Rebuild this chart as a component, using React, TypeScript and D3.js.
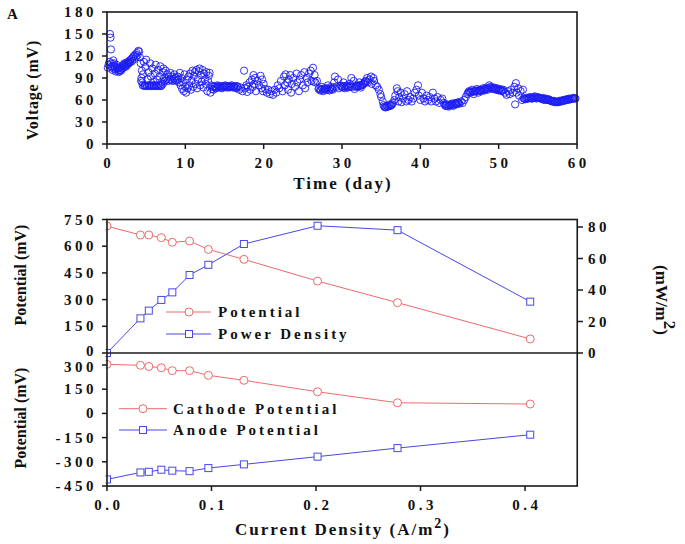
import React from "react";
import * as d3 from "d3";

// ---------- Panel A data: [day, voltage mV] ----------
const voltageData: [number, number][] = [
  [0.1,104],[0.2,108],[0.3,112],[0.38,150],[0.45,145],[0.5,129],[0.55,110],[0.6,106],[0.7,101],[0.8,114],[0.9,110],[1.0,104],[1.1,99],[1.2,108],[1.3,103],[1.4,100],[1.5,98],[1.6,104],[1.7,101],[1.8,100],[1.9,106],[2.0,103],[2.1,108],[2.2,110],[2.3,105],[2.4,109],[2.5,111],[2.6,108],[2.7,112],[2.8,110],[2.9,114],[3.0,112],[3.1,116],[3.2,113],[3.3,118],[3.4,120],[3.5,116],[3.6,122],[3.7,119],[3.8,124],[3.9,121],[4.0,127],[4.1,126],[4.2,118],[4.3,110],[4.35,86],[4.4,90],[4.45,100],[4.5,84],[4.6,95],[4.7,112],[4.8,80],[4.9,105],[5.0,115],[5.1,79],[5.2,88],[5.3,98],[5.4,80],[5.5,110],[5.6,92],[5.7,79],[5.8,103],[5.9,85],[6.0,80],[6.1,96],[6.2,108],[6.3,79],[6.4,88],[6.5,101],[6.6,80],[6.7,92],[6.8,106],[6.9,79],[7.0,85],[7.1,98],[7.2,103],[7.3,90],[7.4,86],[7.5,100],[7.6,88],[7.7,95],[7.8,86],[7.9,92],[8.0,88],[8.1,97],[8.2,87],[8.3,92],[8.4,86],[8.5,89],[8.6,95],[8.7,87],[8.8,90],[8.9,86],[9.0,92],[9.1,88],[9.2,84],[9.3,97],[9.4,80],[9.5,90],[9.6,75],[9.7,84],[9.8,72],[9.9,95],[10.0,78],[10.1,70],[10.2,88],[10.3,76],[10.4,92],[10.5,80],[10.6,96],[10.7,74],[10.8,86],[10.9,100],[11.0,78],[11.1,93],[11.2,98],[11.3,82],[11.4,101],[11.5,76],[11.6,88],[11.7,99],[11.8,103],[11.9,80],[12.0,94],[12.1,85],[12.2,101],[12.3,77],[12.4,96],[12.5,88],[12.6,82],[12.7,98],[12.8,72],[12.9,86],[13.0,93],[13.1,97],[13.2,70],[13.3,80],[13.4,75],[13.5,78],[13.6,74],
  [13.7,79],[13.9,76],[14.1,80],[14.3,77],[14.5,79],[14.7,76],[14.9,78],[15.1,80],[15.3,77],[15.5,79],[15.7,78],[15.9,80],[16.1,77],[16.3,79],[16.5,76],[16.7,78],[16.9,74],[17.1,77],[17.3,72],[17.5,100],[17.6,76],[17.8,80],[17.9,71],[18.0,78],[18.2,84],[18.3,74],[18.5,88],[18.6,78],[18.7,94],[18.8,82],[18.9,90],[19.0,72],[19.2,86],[19.4,80],[19.6,93],[19.7,76],[19.8,88],[19.9,72],[20.0,82],[20.2,75],[20.4,70],[20.6,74],[20.8,68],[21.0,72],[21.2,67],[21.4,74],[21.6,70],[21.8,80],[22.0,76],[22.2,86],[22.4,72],[22.6,92],[22.7,80],[22.8,95],[23.0,84],[23.1,74],[23.2,88],[23.4,94],[23.5,70],[23.6,82],[23.8,90],[24.0,78],[24.2,96],[24.3,84],[24.5,72],[24.6,88],[24.8,94],[25.0,80],[25.2,98],[25.3,76],[25.5,90],[25.6,84],[25.8,96],[26.0,100],[26.1,86],[26.3,104],[26.4,85],[26.5,94],[26.6,84],[26.8,86],[27.0,75],[27.2,73],[27.4,78],[27.6,72],[27.8,76],[28.0,74],[28.2,80],[28.4,73],[28.6,78],[28.8,74],[29.0,84],[29.1,92],[29.3,78],[29.5,88],[29.6,76],[29.8,80],[30.0,78],[30.2,84],[30.4,76],[30.6,80],[30.8,77],[31.0,82],[31.2,90],[31.3,78],[31.5,86],[31.6,75],[31.8,80],[32.0,78],[32.2,84],[32.4,77],[32.6,80],[32.8,82],[33.0,86],[33.2,90],[33.3,84],[33.5,88],[33.7,92],[33.8,82],[34.0,90],[34.1,86],[34.3,80],[34.5,78],[34.7,74],[34.9,68],[35.0,64],[35.2,58],[35.3,53],[35.5,50],[35.7,52],[35.9,51],[36.1,54],[36.3,53],[36.5,56],[36.7,60],[36.8,66],[37.0,76],[37.1,72],[37.2,58],[37.3,64],[37.5,70],[37.6,57],[37.8,62],[38.0,68],[38.2,58],[38.3,72],[38.5,60],[38.7,64],[38.9,58],[39.1,62],[39.3,70],[39.5,74],[39.7,80],[39.8,66],[40.0,60],[40.2,70],[40.4,62],[40.6,58],[40.8,66],[41.0,60],[41.2,64],[41.4,58],[41.6,70],[41.8,62],[42.0,58],[42.2,64],[42.4,56],[42.6,60],[42.8,62],[43.0,56],[43.2,52],[43.4,54],[43.6,51],[43.8,53],[44.0,55],[44.2,52],[44.4,56],[44.6,54],[44.8,57],[45.0,55],[45.2,58],[45.4,56],[45.6,60],[45.8,64],[46.0,68],[46.2,72],[46.4,70],[46.6,74],[46.8,68],[47.0,72],[47.2,75],[47.4,70],[47.6,74],[47.8,72],[48.0,76],[48.2,73],[48.4,77],[48.6,74],[48.8,80],[49.0,78],[49.2,75],[49.4,77],[49.6,74],[49.8,76],[50.0,73],[50.2,75],[50.4,72],[50.6,74],[50.8,70],[51.0,67],[51.2,72],[51.4,68],[51.6,74],[51.8,70],[52.0,78],[52.1,54],[52.2,83],[52.3,70],[52.5,76],[52.6,66],[52.8,72],[53.0,60],[53.1,74],[53.2,62],[53.4,61],[53.6,63],[53.8,62],[54.0,64],[54.2,62],[54.4,63],[54.6,65],[54.8,62],[55.0,64],[55.2,63],[55.4,62],[55.6,63],[55.8,60],[56.0,62],[56.2,60],[56.4,61],[56.6,59],[56.8,58],[57.0,59],[57.2,57],[57.4,58],[57.6,57],[57.8,59],[58.0,58],[58.2,60],[58.4,59],[58.6,61],[58.8,60],[59.0,62],[59.2,61],[59.4,62],[59.6,63],[59.8,62],
  [0.65,104],[0.85,107],[1.05,102],[1.25,105],[1.45,103],[1.65,100],[1.85,103],[2.05,106],[2.25,107],[2.45,106],[2.65,110],[2.85,111],
  [4.55,80],[4.75,79],[4.95,80],[5.15,79],[5.35,80],[5.55,79],[5.75,80],[5.95,79],[6.15,80],[6.35,79],[6.55,80],[6.75,79],[6.95,80],[7.15,82],
  [13.8,78],[14.0,77],[14.2,79],[14.4,78],[14.6,77],[14.8,79],[15.0,78],[15.2,79],[15.4,78],[15.6,77],[15.8,79],[16.0,78],[16.2,78],[16.4,77],[16.6,79],
  [27.1,76],[27.3,74],[27.5,75],[27.7,74],[27.9,75],[28.1,76],[28.3,74],[28.5,76],[28.7,75],[28.9,77],[29.9,79],[30.1,77],[30.3,79],[30.5,78],[30.7,79],[30.9,78],[31.1,79],[31.7,78],[31.9,79],[32.1,80],[32.3,79],[32.5,81],[32.7,82],[32.9,84],[33.1,85],
  [35.4,51],[35.6,50],[35.8,51],[36.0,52],[36.2,52],[36.4,54],
  [43.1,54],[43.3,52],[43.5,52],[43.7,53],[43.9,54],[44.1,53],[44.3,54],[44.5,55],[44.7,55],[44.9,56],
  [46.1,70],[46.3,71],[46.5,72],[46.7,71],[46.9,72],[47.1,73],[47.3,72],[47.5,73],[47.7,73],[47.9,74],[48.1,74],[48.3,75],[48.5,75],[48.7,76],[48.9,77],[49.1,76],[49.3,76],[49.5,76],[49.7,75],[49.9,74],[50.1,74],[50.3,73],[50.5,73],
  [53.3,62],[53.5,62],[53.7,62],[53.9,63],[54.1,63],[54.3,62],[54.5,64],[54.7,63],[54.9,63],[55.1,63],[55.3,62],[55.5,62],[55.7,61],[55.9,61],[56.1,61],[56.3,60],[56.5,60],[56.7,59],[56.9,58],[57.1,58],[57.3,57],[57.5,57],[57.7,58],[57.9,58],[58.1,59],[58.3,59],[58.5,60],[58.7,60],[58.9,61],[59.1,61],[59.3,62],[59.5,62],[59.7,62],
];

// ---------- Panel B data ----------
const currentDensity = [0.0, 0.032, 0.040, 0.052, 0.0625, 0.079, 0.097, 0.131, 0.2015, 0.278, 0.405];
const cellPotential = [713, 663, 663, 648, 622, 629, 582, 526, 404, 283, 79];
const powerDensity = [0, 22, 26.9, 33.7, 38.5, 49.5, 56, 69.2, 80.8, 78, 32.6];
const cathodePotential = [304, 298, 291, 283, 265, 265, 236, 205, 134, 66, 58];
const anodePotential = [-409, -366, -362, -349, -355, -358, -339, -316, -268, -215, -132];

const dayTicks = [0, 10, 20, 30, 40, 50, 60];
const voltageTicks = [0, 30, 60, 90, 120, 150, 180];
const topPotTicks = [0, 150, 300, 450, 600, 750];
const powerTicks = [0, 20, 40, 60, 80];
const botPotTicks = [-450, -300, -150, 0, 150, 300];
const currentTicks = [0, 0.1, 0.2, 0.3, 0.4];

const FONT = "'Liberation Serif', 'Times New Roman', serif";
const AXIS = "#1a1a1a";
const RED = "#ee6a6a";
const BLUE = "#4848e6";
const SCATTER = "#1c1cf5";

export default function App() {
  const xA = d3.scaleLinear().domain([0, 60]).range([107, 577]);
  const yA = d3.scaleLinear().domain([0, 180]).range([144, 12]);

  const xB = d3.scaleLinear().domain([0, 0.45]).range([107, 577.25]);
  const yTop = d3.scaleLinear().domain([0, 750]).range([353, 219.5]);
  const yPow = d3.scaleLinear().domain([0, 80]).range([353, 227]);
  const yBot = d3.scaleLinear().domain([-450, 300]).range([486, 365]);

  const lineTop = d3.line<number>().x((_, i) => xB(currentDensity[i])).y((d) => yTop(d));
  const linePow = d3.line<number>().x((_, i) => xB(currentDensity[i])).y((d) => yPow(d));
  const lineBot = d3.line<number>().x((_, i) => xB(currentDensity[i])).y((d) => yBot(d));

  const tickStyle: React.CSSProperties = {
    fontFamily: FONT, fontWeight: "bold", fontSize: 15, letterSpacing: 3.5, fill: "#111",
  };
  const titleStyle: React.CSSProperties = {
    fontFamily: FONT, fontWeight: "bold", fontSize: 17, letterSpacing: 2, fill: "#111",
  };
  const ylabStyle: React.CSSProperties = {
    fontFamily: FONT, fontWeight: "bold", fontSize: 16, fill: "#111",
  };
  const legStyle: React.CSSProperties = {
    fontFamily: FONT, fontWeight: "bold", fontSize: 15, letterSpacing: 3, fill: "#111",
  };

  const circle = (cx: number, cy: number, key: string | number) => (
    <circle key={key} cx={cx} cy={cy} r={4} fill="#fff" stroke={RED} strokeWidth={1} />
  );
  const square = (cx: number, cy: number, key: string | number) => (
    <rect key={key} x={cx - 3.5} y={cy - 3.5} width={7} height={7} fill="#fff" stroke={BLUE} strokeWidth={1} />
  );

  const leftTicks = (ticks: number[], y: (v: number) => number, x0: number, dyFor?: (t: number) => number) =>
    ticks.map((t) => (
      <g key={"lt" + t + x0 + y(t)}>
        <line x1={x0 - 5} x2={x0} y1={y(t)} y2={y(t)} stroke={AXIS} strokeWidth={1.5} />
        <text x={97} y={y(t) + (dyFor ? dyFor(t) : 5)} textAnchor="end" style={tickStyle}>{t}</text>
      </g>
    ));

  return (
    <svg width={685} height={544} style={{ position: "absolute", left: 0, top: 0, background: "#fff" }}>
      {/* ---------------- Panel A ---------------- */}
      <text x={7} y={19} style={{ ...ylabStyle, fontSize: 15 }}>A</text>
      {voltageData.map(([d, v], i) => (
        <circle key={"a" + i} cx={xA(d)} cy={yA(v)} r={3.6} fill="none" stroke={SCATTER} strokeWidth={0.9} />
      ))}
      <rect x={107} y={12} width={470} height={132} fill="none" stroke={AXIS} strokeWidth={1.6} />
      {leftTicks(voltageTicks, yA, 107)}
      {dayTicks.map((t) => (
        <g key={"dx" + t}>
          <line x1={xA(t)} x2={xA(t)} y1={144} y2={149} stroke={AXIS} strokeWidth={1.5} />
          <text x={xA(t) + 1.75} y={168} textAnchor="middle" style={tickStyle}>{t}</text>
        </g>
      ))}
      <text x={343} y={189} textAnchor="middle" style={titleStyle}>Time (day)</text>
      <text transform="translate(38,90) rotate(-90)" textAnchor="middle" style={{ ...ylabStyle, letterSpacing: 0.8 }}>Voltage (mV)</text>

      {/* ---------------- Panel B ---------------- */}
      <text x={8} y={210} style={{ ...ylabStyle, fontSize: 15 }}>B</text>

      {/* top plot */}
      <path d={lineTop(cellPotential) || ""} fill="none" stroke={RED} strokeWidth={1} />
      <path d={linePow(powerDensity) || ""} fill="none" stroke={BLUE} strokeWidth={1} />
      {cellPotential.map((v, i) => circle(xB(currentDensity[i]), yTop(v), "cp" + i))}
      {powerDensity.map((v, i) => square(xB(currentDensity[i]), yPow(v), "pd" + i))}

      {/* bottom plot */}
      <path d={lineBot(cathodePotential) || ""} fill="none" stroke={RED} strokeWidth={1} />
      <path d={lineBot(anodePotential) || ""} fill="none" stroke={BLUE} strokeWidth={1} />
      {cathodePotential.map((v, i) => circle(xB(currentDensity[i]), yBot(v), "ca" + i))}
      {anodePotential.map((v, i) => square(xB(currentDensity[i]), yBot(v), "an" + i))}

      {/* mask markers that extend left of the axis */}
      <rect x={0} y={200} width={105.5} height={300} fill="#fff" />
      <rect x={107} y={219.5} width={470.25} height={266.5} fill="none" stroke={AXIS} strokeWidth={1.6} />
      <line x1={107} x2={577.25} y1={353} y2={353} stroke={AXIS} strokeWidth={1.6} />

      {leftTicks(topPotTicks, yTop, 107, (t) => (t === 0 ? 3 : 5))}
      {leftTicks(botPotTicks, yBot, 107, (t) => (t === 300 ? 7 : 5))}

      {powerTicks.map((t) => (
        <g key={"pw" + t}>
          <line x1={577.25} x2={583} y1={yPow(t)} y2={yPow(t)} stroke={AXIS} strokeWidth={1.5} />
          <text x={588} y={yPow(t) + 5} textAnchor="start" style={tickStyle}>{t}</text>
        </g>
      ))}

      {currentTicks.map((t) => (
        <g key={"cx" + t}>
          <line x1={xB(t)} x2={xB(t)} y1={486} y2={491} stroke={AXIS} strokeWidth={1.5} />
          <text x={xB(t) + 1.75} y={510} textAnchor="middle" style={tickStyle}>{d3.format(".1f")(t)}</text>
        </g>
      ))}

      <text x={343} y={535} textAnchor="middle" style={titleStyle}>
        Current Density (A/m<tspan dy={-7} fontSize={14}>2</tspan><tspan dy={7}>)</tspan>
      </text>

      <text transform="translate(26,275) rotate(-90)" textAnchor="middle" style={ylabStyle}>Potential (mV)</text>
      <text transform="translate(26,418) rotate(-90)" textAnchor="middle" style={ylabStyle}>Potential (mV)</text>

      <text transform="translate(656,300) rotate(90)" textAnchor="middle" style={{ ...ylabStyle, fontSize: 17 }}>
        (mW/m<tspan dy={-8}>2</tspan><tspan dy={8}>)</tspan>
      </text>

      {/* legends */}
      <line x1={166} x2={211} y1={312} y2={312} stroke={RED} strokeWidth={1} />
      {circle(189, 312, "lg1")}
      <text x={218} y={317} style={legStyle}>Potential</text>
      <line x1={166} x2={211} y1={334} y2={334} stroke={BLUE} strokeWidth={1} />
      {square(189, 334, "lg2")}
      <text x={218} y={339} style={legStyle}>Power Density</text>

      <line x1={119} x2={167} y1={408.7} y2={408.7} stroke={RED} strokeWidth={1} />
      {circle(143, 408.7, "lg3")}
      <text x={173} y={414} style={legStyle}>Cathode Potential</text>
      <line x1={119} x2={167} y1={430} y2={430} stroke={BLUE} strokeWidth={1} />
      {square(143, 430, "lg4")}
      <text x={173} y={435} style={legStyle}>Anode Potential</text>
    </svg>
  );
}
